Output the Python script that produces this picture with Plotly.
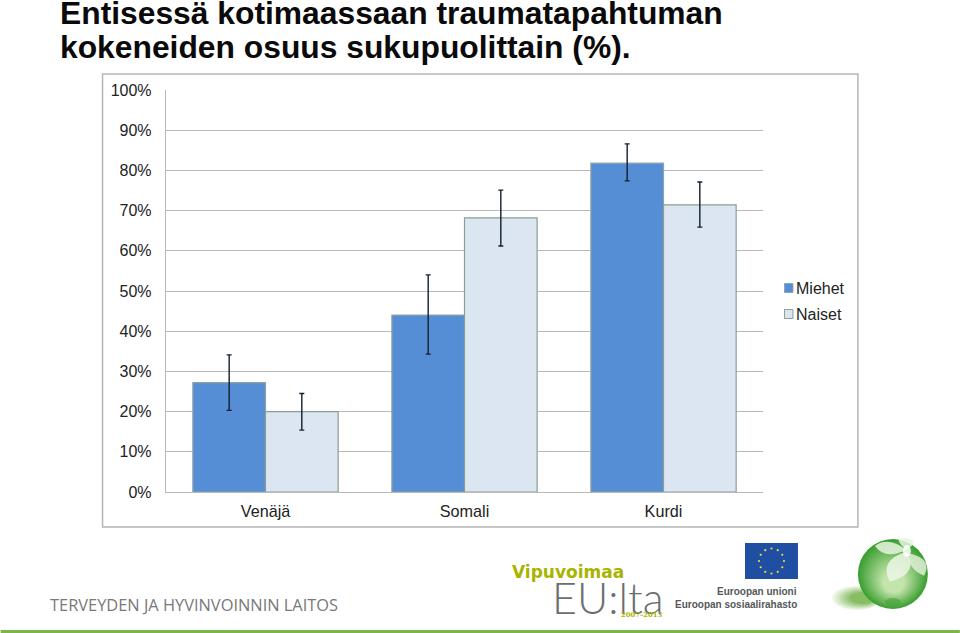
import plotly.graph_objects as go
import math

categories = ["Venäjä", "Somali", "Kurdi"]
miehet = [27.2, 44.0, 81.8]
miehet_hi = [34.1, 54.0, 86.6]
miehet_lo = [20.3, 34.3, 77.4]
naiset = [20.0, 68.2, 71.4]
naiset_hi = [24.5, 75.1, 77.1]
naiset_lo = [15.4, 61.2, 65.9]
y_ticks = [0, 10, 20, 30, 40, 50, 60, 70, 80, 90, 100]

W, H = 960, 633
L, R, T, B = 165.5, 763, 90, 492
FONT = "Liberation Sans"


def px(x):
    return (x - L) / (R - L)


def py(y):
    return (B - y) / (B - T)


shapes = []
annotations = []


def rect(x0, y0, x1, y1, fill="rgba(0,0,0,0)", line=None, lw=1, layer="above"):
    shapes.append(dict(type="rect", xref="paper", yref="paper", x0=px(x0), x1=px(x1),
                       y0=py(y1), y1=py(y0), fillcolor=fill, layer=layer,
                       line=dict(color=line or "rgba(0,0,0,0)", width=lw if line else 0)))


def oval(cx, cy, rx, ry, fill, layer="above"):
    shapes.append(dict(type="circle", xref="paper", yref="paper", x0=px(cx - rx), x1=px(cx + rx),
                       y0=py(cy + ry), y1=py(cy - ry), fillcolor=fill, layer=layer,
                       line=dict(width=0)))


def petal(points, fill):
    """Closed quadratic-curve blob; points: start, then (ctrl, end) pairs, in 3x crop pixels."""
    def c(p):
        return f"{px(825 + p[0] / 3):.5f},{py(530 + p[1] / 3):.5f}"
    d = "M" + c(points[0])
    for i in range(1, len(points), 2):
        d += " Q" + c(points[i]) + " " + c(points[i + 1])
    shapes.append(dict(type="path", xref="paper", yref="paper", path=d + " Z",
                       fillcolor=fill, line=dict(width=0), layer="above"))


def text(x, y, s, size, color="#222222", anchor="left", family=FONT):
    annotations.append(dict(xref="paper", yref="paper", x=px(x), y=py(y), text=s, showarrow=False,
                            xanchor=anchor, yanchor="middle", align=anchor,
                            borderpad=0, font=dict(family=family, size=size, color=color)))


def mix(a, b, t):
    return "rgb(%d,%d,%d)" % tuple(round(a[i] + (b[i] - a[i]) * t) for i in range(3))


# chart frame
rect(102, 74, 858, 527, line="#b5b5b5", lw=1.5, layer="below")

# title
text(58, 13.5, "<b>Entisessä kotimaassaan traumatapahtuman</b>", 31.8, "#0a0a0a")
text(58, 46.5, "<b>kokeneiden osuus sukupuolittain (%).</b>", 31.8, "#0a0a0a")

# legend
rect(784.5, 283.5, 793, 292.5, fill="#558ed5", line="#8fa3b5", lw=1)
rect(784.5, 309.5, 793, 318.5, fill="#dce6f2", line="#8a9f8f", lw=1)
text(795.5, 288, "Miehet", 16)
text(795.5, 314, "Naiset", 16)

# footer
rect(0, 630, 960, 633, fill="#7ab648")
text(48.5, 604, "TERVEYDEN JA HYVINVOINNIN LAITOS", 16.4, "#77797b", family="Open Sans")
text(511, 572, "<b>Vipuvoimaa</b>", 17, "#a8b400", family="DejaVu Sans")
text(551, 597, "EU:lta", 43, "#6b6e70", family="Lato Light, Lato")
text(620, 615, "<b>2007–2013</b>", 6.8, "#a8b400", family="DejaVu Serif")
text(798.5, 591, "<b>Euroopan unioni</b>", 10, "#55585a", anchor="right")
text(798.5, 604, "<b>Euroopan sosiaalirahasto</b>", 10, "#55585a", anchor="right")

# EU flag
rect(745, 543, 798, 579, fill="#1f4ea3")
for k in range(12):
    a = 2 * math.pi * k / 12
    oval(771.5 + 12.5 * math.sin(a), 561 - 12.5 * math.cos(a), 1.1, 1.1, "#e6e04a")

# globe emblem
for k in range(8):
    t = k / 7
    oval(857 + 6 * t, 598, 25 - 12 * t, 12 - 6 * t, mix((240, 247, 232), (135, 190, 100), t))
for k in range(14):
    t = k / 13
    oval(893 + 1 * t, 574 + 8 * t, 35 - 24 * t, 35 - 24 * t, mix((62, 160, 52), (195, 228, 170), t))
oval(893, 602, 8, 4, "rgba(70,160,60,0.6)")
petal([(245, 60), (190, 18), (150, 48), (180, 90), (245, 60)], "rgba(228,241,218,0.88)")
petal([(245, 60), (200, 20), (240, 24), (290, 30), (245, 60)], "rgba(232,244,224,0.85)")
petal([(245, 65), (160, 90), (195, 155), (285, 130), (245, 65)], "rgba(235,245,228,0.88)")
petal([(250, 70), (250, 120), (298, 137), (325, 85), (250, 70)], "rgba(228,241,218,0.82)")
oval(907, 551, 4, 6, "rgba(255,255,255,0.85)")

fig = go.Figure()
fig.add_trace(go.Bar(
    name="Miehet", x=categories, y=miehet,
    marker=dict(color="#558ed5", line=dict(color="#8fa3a5", width=1.2)),
    error_y=dict(type="data", symmetric=False,
                 array=[h - v for h, v in zip(miehet_hi, miehet)],
                 arrayminus=[v - l for v, l in zip(miehet, miehet_lo)],
                 color="#12202e", thickness=1.4, width=2.5),
))
fig.add_trace(go.Bar(
    name="Naiset", x=categories, y=naiset,
    marker=dict(color="#dce6f2", line=dict(color="#8a9f8f", width=1.2)),
    error_y=dict(type="data", symmetric=False,
                 array=[h - v for h, v in zip(naiset_hi, naiset)],
                 arrayminus=[v - l for v, l in zip(naiset, naiset_lo)],
                 color="#12202e", thickness=1.4, width=2.5),
))

fig.update_layout(
    width=W, height=H, autosize=False,
    margin=dict(l=L, r=W - R, t=T, b=H - B, pad=0),
    paper_bgcolor="white", plot_bgcolor="white",
    barmode="group", bargap=0.27, bargroupgap=0,
    showlegend=False,
    font=dict(family=FONT, size=15, color="#222222"),
    shapes=shapes, annotations=annotations,
    xaxis=dict(type="category", range=[-0.5, 2.5], showgrid=False, showline=True,
               linecolor="#b9b9b9", linewidth=1.4, ticks="outside", ticklen=4,
               tickcolor="rgba(0,0,0,0)", tickfont=dict(size=16.2)),
    yaxis=dict(range=[0, 100], tickvals=y_ticks, ticktext=[f"{v}%" for v in y_ticks],
               showgrid=True, gridcolor="#b9b9b9", gridwidth=1.4, showline=True,
               linecolor="#b9b9b9", linewidth=1.4, zeroline=False, ticks="outside", ticklen=10,
               tickcolor="rgba(0,0,0,0)", tickfont=dict(size=16)),
)

fig.write_html("out.html", config={"displayModeBar": False},
               post_script="document.body.style.margin='0';document.body.style.overflow='hidden';")
